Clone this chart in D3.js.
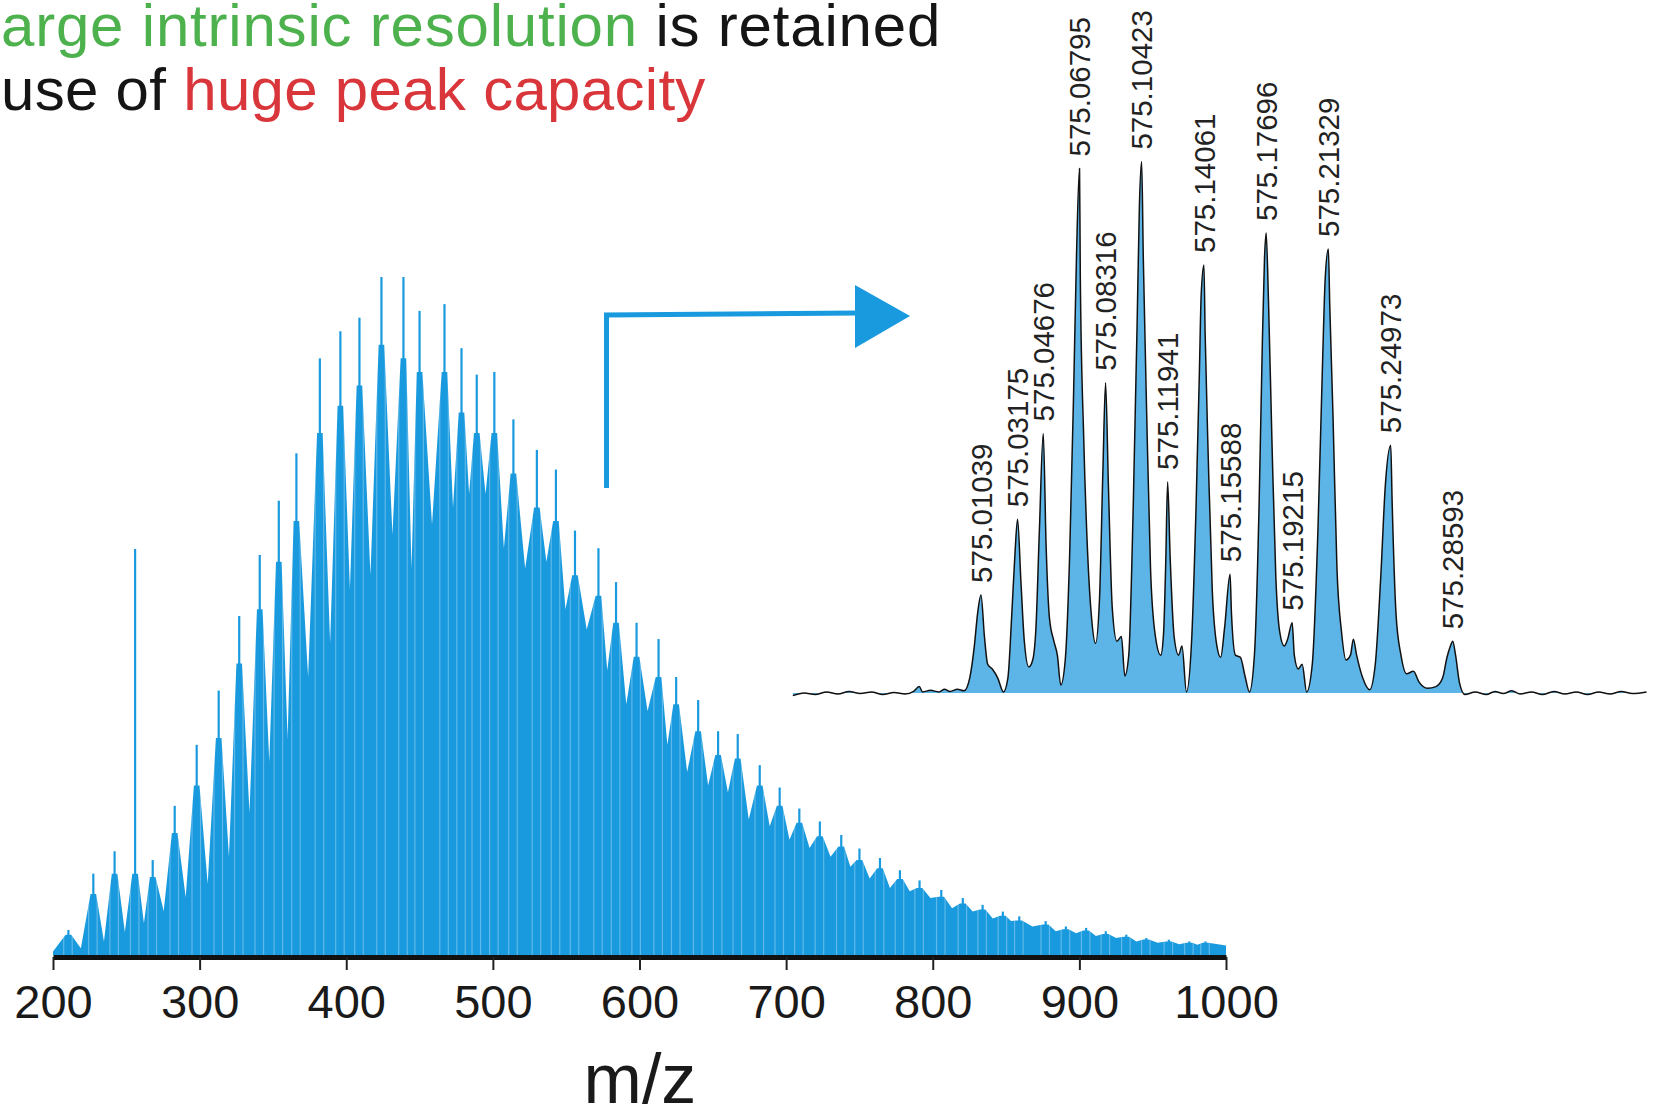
<!DOCTYPE html>
<html><head><meta charset="utf-8">
<script src="https://cdn.jsdelivr.net/npm/d3@7"></script>
<style>body{margin:0;background:#fff}svg{display:block}</style>
</head><body>
<svg id="c" width="1658" height="1115"></svg>
<script>
// ---- main spectrum (m/z 200-1000): spike positions, spike heights, envelope at spike base, valleys between
const peakMz = [210.5,227.5,242,256,268,283,298,313,327,341,354,366,382,396,409,424,439,450,467,478.6,489,501,514,530,543,556,572,584,598,613,625,640,653.6,667,682,695.6,709,723,737.6,750,764,777.6,791,805.8,820.5,834,847.8,859,877,890.8,904.6,918,932,945.6,961,975,986];
const peakInt = [3.7,12,15.3,59.9,14,22,31,39,50,59,67,74,88,92,94,100,100,95,96,89.5,85.6,86,79,74.5,71.6,62.6,60,55,49,46.6,41,37.6,33,32.6,28,24.7,21.6,19.7,17.7,15.7,14.3,12.5,11,9.6,8.4,7.4,6.4,5.7,5,4.2,4,3.5,3,2.5,2.25,2,2];
const shoulderInt = [3,9,12,12,11.5,18,25,32,43,51,58,64,77,81,84,90,88,86,86,80,77,77,71,66,64,56,53,49,44,41,37,33,29.5,29,25,22,19.5,17.5,16,14,12.8,11.2,9.9,8.6,7.6,6.7,5.8,5.1,4.5,3.8,3.6,3.1,2.7,2.3,2,1.8,1.8];
const valleyInt = [0.5,1,2,3.4,4.7,6.5,8.5,10.5,14.5,21,28.5,32,41,46,54,56,62,57,63.5,66,68,68,60,57,58,51,48,42,37,36,31,27,25,24,20,19,17,15.8,14.5,13,11.3,9.9,9.4,8.4,6.9,6.4,5.4,5,4.2,3.5,3.2,2.8,2.5,2,1.8,1.6,1.5,1.4];
const xTicks = [200,300,400,500,600,700,800,900,1000];

// ---- inset profile (zoom around m/z 575)
const insetMz = [574.9005,574.9071,574.9136,574.9202,574.9268,574.9333,574.9399,574.9464,574.9530,574.9596,574.9661,574.9710,574.9743,574.9763,574.9809,574.9858,574.9891,574.9923,574.9966,575.0005,
575.0038,575.0065,575.0084,575.01039,575.0124,575.0143,575.0170,575.0202,575.0235,
575.0261,575.0284,575.0301,575.03175,575.0337,575.0357,575.0383,575.0406,
575.0425,575.0445,575.04676,575.0484,575.0504,575.0530,575.0550,575.0570,
575.0596,575.0622,575.0645,575.0662,575.06795,575.0684,575.0704,575.0727,575.0750,575.0773,
575.0796,575.0816,575.08316,575.0848,575.0871,575.0898,575.0924,575.0944,
575.0967,575.0993,575.1016,575.1029,575.10423,575.1052,575.1072,575.1094,575.1121,575.1154,575.1170,
575.1183,575.11941,575.1209,575.1232,575.1258,575.1278,575.1304,
575.1334,575.1360,575.1380,575.1390,575.14061,575.1413,575.1432,575.1455,575.1482,575.1504,
575.1527,575.15588,575.1567,575.1590,575.1619,575.1646,575.1672,
575.1701,575.1728,575.1747,575.1760,575.17696,575.1783,575.1803,575.1826,575.1849,575.1875,575.1895,
575.19215,575.1934,575.1957,575.1980,575.2006,
575.2039,575.2072,575.2098,575.2115,575.21329,575.2141,575.2160,575.2183,575.2210,575.2236,575.2262,575.2279,575.2298,575.2334,575.2374,
575.2407,575.2439,575.2466,575.24973,575.2505,575.2528,575.2557,575.2590,575.2630,575.2662,575.2712,575.2761,575.2800,
575.2826,575.2846,575.28593,575.2876,575.2899,575.2931,
575.2990,575.3056,575.3105,575.3155,575.3204,575.3253,575.3319,575.3384,575.3450,575.3515,575.3581,575.3647,575.3712,575.3778,575.3844,575.3909,575.3991];
const insetInt = [-0.5,0,-0.3,0.2,-0.2,0.3,-0.1,0.2,-0.3,0.1,-0.2,0.3,1.2,0.2,0.5,0.2,0.7,0.3,0.7,0.4,
2.8,8.8,14.9,18.4,10.6,5.4,4.5,2.8,0.2,
2.8,14.9,25.3,32.6,21,9.7,4.9,6.2,
12.3,30.5,48.7,27.9,14,9.7,7.1,1.5,
6.2,26.1,56.5,82.4,98.4,78.1,47.8,26.1,14,9.3,
17.5,41.7,58.2,39.1,15.8,9.7,10.6,3.2,
7.1,34.8,69.4,91.1,99.7,81.6,52.1,23.5,11,7.1,11,
24.4,39.6,25.3,10.6,7.1,8.8,0.2,
9.7,34.8,60.8,74.6,80.3,67.7,43.5,19.2,8.8,6.7,
12.3,22.3,14.9,7.1,6.7,3.2,0.2,
7.1,34.8,65.1,81.6,86.3,73.8,47.8,21.8,11.4,8.8,10.1,
13.2,7.1,4.5,5.4,0.2,
5.4,30.5,60.8,78.1,83.3,72.9,52.1,23.5,11.4,6.2,7.1,10.1,7.1,2.8,0.6,
5.4,21.8,39.1,46.5,36.5,14.9,7.1,3.6,4.1,2.1,0.9,1.2,2.8,
6.7,8.8,9.7,7.1,1.9,-0.3,
0.2,-0.3,0.3,-0.1,0.4,-0.2,0.2,-0.3,0.3,-0.2,0.2,-0.3,0.2,-0.2,0.3,-0.1,0.2];
const insetLabels = ["575.01039","575.03175","575.04676","575.06795","575.08316","575.10423","575.11941","575.14061","575.15588","575.17696","575.19215","575.21329","575.24973","575.28593"];

const titleLine1 = [["arge intrinsic resolution", "#4db24d"], [" is retained", "#151515"]];
const titleLine2 = [["use of ", "#151515"], ["huge peak capacity", "#d9363b"]];
const arrowMz = 577.5;

const FONT = "'Liberation Sans', Arial, Helvetica, sans-serif";
const BLUE = "#1a9ade";
const svg = d3.select("#c");

// ---------- title ----------
function titleLine(parts, y, spacing) {
  const t = svg.append("text").attr("x", 1).attr("y", y)
    .attr("font-family", FONT).attr("font-size", 60).attr("letter-spacing", spacing);
  parts.forEach(([s, c]) => t.append("tspan").attr("fill", c).text(s));
}
titleLine(titleLine1, 46, 0.8);
titleLine(titleLine2, 110, 0.3);

// ---------- main spectrum ----------
const x = d3.scaleLinear().domain([200, 1000]).range([53, 1226]);
const y = d3.scaleLinear().domain([0, 100]).range([955, 277]);

const pts = [[200, valleyInt[0]]];
peakMz.forEach((m, i) => {
  pts.push([m - 1.9, shoulderInt[i]]);
  pts.push([m + 1.9, shoulderInt[i]]);
  const vm = i < peakMz.length - 1 ? (m + peakMz[i + 1]) / 2 : 1000;
  pts.push([vm, valleyInt[i + 1]]);
});

const area = d3.area().x(d => x(d[0])).y0(y(0)).y1(d => y(d[1]));
svg.append("clipPath").attr("id", "specClip").append("path").attr("d", area(pts));
svg.append("path").attr("d", area(pts)).attr("fill", BLUE);
// spikes on top of each group
svg.append("g").selectAll("line").data(peakMz).join("line")
  .attr("x1", d => x(d)).attr("x2", d => x(d))
  .attr("y1", (d, i) => y(shoulderInt[i]) + 2).attr("y2", (d, i) => y(peakInt[i]))
  .attr("stroke", BLUE).attr("stroke-width", 2.2);
// light separations between bars
const gStripe = svg.append("g").attr("clip-path", "url(#specClip)");
peakMz.forEach((m, i) => {
  [m - 3.2, m + 2.6].forEach(s => {
    gStripe.append("line").attr("x1", x(s)).attr("x2", x(s))
      .attr("y1", y(0)).attr("y2", y(100))
      .attr("stroke", "#ffffff").attr("stroke-opacity", 0.3).attr("stroke-width", 1.2);
  });
});

// axis
const gx = svg.append("g").attr("transform", `translate(0,${y(0) + 2})`)
  .call(d3.axisBottom(x).tickValues(xTicks).tickSize(13).tickSizeOuter(0).tickFormat(d3.format("d")));
gx.select(".domain").attr("stroke", "#111").attr("stroke-width", 5);
gx.selectAll(".tick line").attr("stroke", "#222").attr("stroke-width", 2);
gx.selectAll(".tick text").attr("y", 61).attr("dy", 0)
  .attr("font-family", FONT).attr("font-size", 47).attr("fill", "#1a1a1a");

svg.append("text").attr("x", 640).attr("y", 1103).attr("text-anchor", "middle")
  .attr("font-family", FONT).attr("font-size", 70).attr("fill", "#1a1a1a").text("m/z");

// ---------- arrow ----------
const ax = x(arrowMz);
svg.append("path").attr("d", `M${ax},488 L${ax},315 L858,313`)
  .attr("fill", "none").attr("stroke", BLUE).attr("stroke-width", 5);
svg.append("path").attr("d", "M855,285 L910,316 L855,348 Z").attr("fill", BLUE);

// ---------- inset ----------
const xi = d3.scaleLinear().domain([574.9, 575.4]).range([792, 1648]);
const yi = d3.scaleLinear().domain([0, 100]).range([693, 160]);
const ins = insetMz.map((m, i) => [m, insetInt[i]]);
svg.append("path")
  .attr("d", d3.area().x(d => xi(d[0])).y0(yi(0)).y1(d => yi(d[1])).curve(d3.curveMonotoneX)(ins))
  .attr("fill", "#5db4e7");
svg.append("path")
  .attr("d", d3.line().x(d => xi(d[0])).y(d => yi(d[1])).curve(d3.curveMonotoneX)(ins))
  .attr("fill", "none").attr("stroke", "#111").attr("stroke-width", 1.5).attr("stroke-linejoin", "round");

insetLabels.forEach(lab => {
  const m = +lab;
  const idx = insetMz.indexOf(m);
  const v = insetInt[idx];
  const px = xi(m), py = yi(v) - 12;
  svg.append("text").attr("transform", `translate(${px},${py}) rotate(-90)`)
    .attr("dy", "0.36em").attr("text-anchor", "start")
    .attr("font-family", FONT).attr("font-size", 29.5).attr("fill", "#222").text(lab);
});
</script>
</body></html>
